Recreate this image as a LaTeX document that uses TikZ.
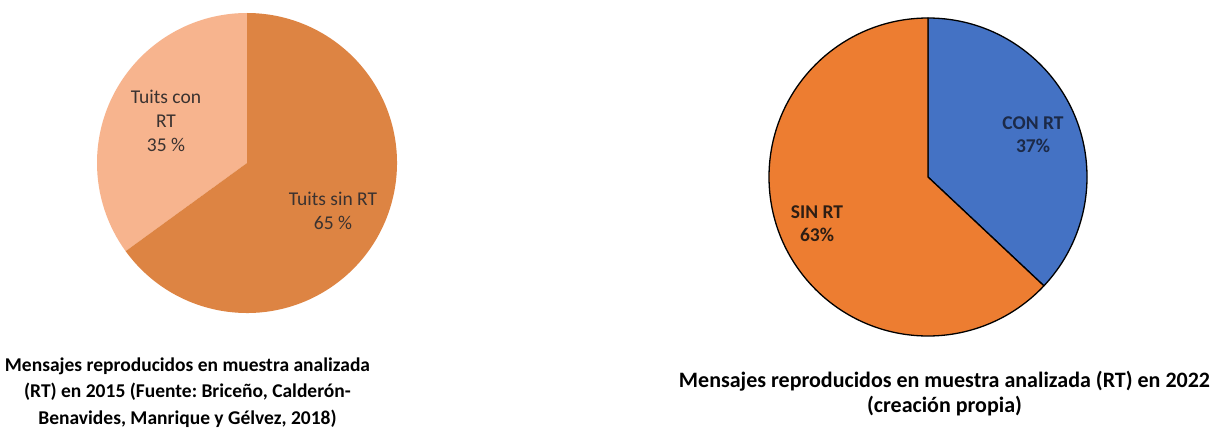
\documentclass[tikz,border=0pt]{standalone}
\usepackage{fontspec}
\setmainfont{Carlito}
\frenchspacing
\definecolor{peachL}{HTML}{F7B48E}
\definecolor{peachD}{HTML}{DD8443}
\definecolor{pieblue}{HTML}{4472C4}
\definecolor{pieorange}{HTML}{ED7D31}
\definecolor{lbldark}{HTML}{3A3230}
\definecolor{lblnavy}{HTML}{1C2A48}
\definecolor{lblbrown}{HTML}{2E1E14}
\begin{document}
\begin{tikzpicture}[x=1pt,y=1pt,
  pielabel/.style={align=center,inner sep=0pt,font=\fontsize{19.5}{24}\selectfont},
  caption/.style={align=center,inner sep=0pt,font=\fontsize{19.5}{26.5}\selectfont\bfseries,text=black},
  slice/.style={draw=black,line width=1.3pt,line join=round}]
\useasboundingbox[fill=white] (0,0) rectangle (1218,432);
% left pie
\fill[peachL] (247,269) -- ++(90:150) arc[start angle=90,end angle=216,radius=150] -- cycle;
\fill[peachD] (247,269) -- ++(216:150) arc[start angle=216,end angle=450,radius=150] -- cycle;
\node[pielabel,text=lbldark] (lcon) at (166,311) {Tuits con\\RT\\35 \%};
\node[pielabel,text=lbldark] (lsin) at (333,221.5) {Tuits sin RT\\65 \%};
% right pie
\filldraw[slice,fill=pieblue] (928,255) -- ++(90:159) arc[start angle=90,end angle=-43.2,radius=159] -- cycle;
\filldraw[slice,fill=pieorange] (928,255) -- ++(90:159) arc[start angle=90,end angle=316.8,radius=159] -- cycle;
\node[pielabel,font=\fontsize{19.5}{23}\selectfont\bfseries,text=lblnavy] (rcon) at (1033,297.5) {CON RT\\37\%};
\node[pielabel,font=\fontsize{19.5}{23}\selectfont\bfseries,text=lblbrown] (rsin) at (817,208.5) {SIN RT\\63\%};
% captions
\node[caption] (capl) at (187.5,39.5) {Mensajes reproducidos en muestra analizada\\(RT) en 2015 (Fuente: Briceño, Calderón-\\Benavides, Manrique y Gélvez, 2018)};
\node[caption,font=\fontsize{22}{24.5}\selectfont\bfseries] (capr) at (944.5,38.5) {Mensajes reproducidos en muestra analizada (RT) en 2022\\(creación propia)};
\end{tikzpicture}
\end{document}
